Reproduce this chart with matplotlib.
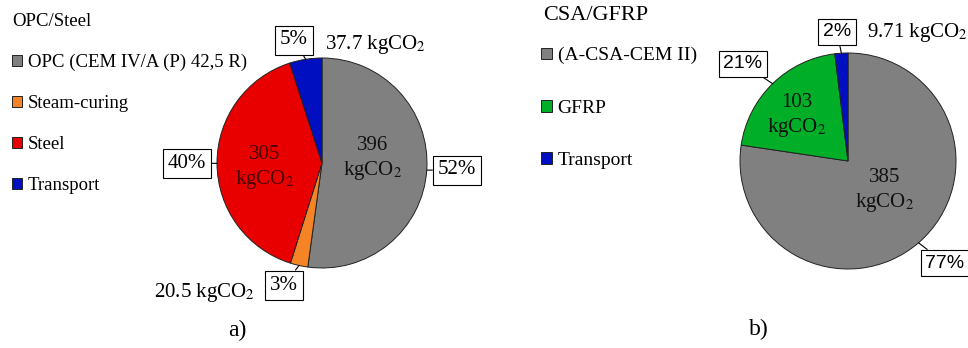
import matplotlib.pyplot as plt
import numpy as np

plt.rcParams['font.family'] = ['Liberation Serif', 'DejaVu Serif']
plt.rcParams['mathtext.fontset'] = 'stix'

# a) OPC/Steel
opc_labels = ["OPC (CEM IV/A (P) 42,5 R)", "Steam-curing", "Steel", "Transport"]
opc_values = [396, 20.5, 305, 37.7]
opc_colors = ["#808080", "#F58426", "#E80000", "#0010C0"]

# b) CSA/GFRP
csa_labels = ["(A-CSA-CEM II)", "GFRP", "Transport"]
csa_values = [385, 103, 9.71]
csa_colors = ["#808080", "#00AE28", "#0010C0"]

W, H = 968, 348
fig = plt.figure(figsize=(W / 100, H / 100), dpi=100)
ax = fig.add_axes([0, 0, 1, 1])

def up(y):
    # pixel rows are counted from the top
    return H - y

c1, r1 = (322, up(163)), 105
c2, r2 = (848, up(161)), 108

w1, _ = ax.pie(opc_values, colors=opc_colors, startangle=90, counterclock=False,
               center=c1, radius=r1, frame=True,
               wedgeprops=dict(edgecolor="#222222", linewidth=0.7))
w2, _ = ax.pie(csa_values, colors=csa_colors, startangle=90, counterclock=False,
               center=c2, radius=r2, frame=True,
               wedgeprops=dict(edgecolor="#222222", linewidth=0.7))

ax.set_xlim(0, W)
ax.set_ylim(0, H)
ax.set_aspect('auto')
ax.axis('off')

kg = "kgCO$_2$"

def edge_point(w):
    # point on the rim at the wedge's middle angle
    a = np.deg2rad((w.theta1 + w.theta2) / 2)
    return (w.center[0] + w.r * np.cos(a), w.center[1] + w.r * np.sin(a))

def pct_box(w, val, total, xy, family, fs):
    ax.annotate(f"{val / total * 100:.0f}%", xy=edge_point(w), xytext=xy,
                ha='center', va='center', fontsize=fs, family=family,
                bbox=dict(boxstyle='square,pad=0.24', fc='white', ec='black', lw=0.8),
                arrowprops=dict(arrowstyle='-', color='black', lw=0.8,
                                shrinkA=0, shrinkB=0))

# percentage callouts, left pie
t1 = sum(opc_values)
for w, v, pos in zip(w1, opc_values, [(457, 170), (284, 285), (187, 163), (294, 40)]):
    pct_box(w, v, t1, (pos[0], up(pos[1])), ['Liberation Serif'], 15)

# percentage callouts, right pie
t2 = sum(csa_values)
for w, v, pos in zip(w2, csa_values, [(945, 263), (743, 64), (837, 32)]):
    pct_box(w, v, t2, (pos[0], up(pos[1])), ['Liberation Sans'], 14)

# values inside the wedges
inner = dict(ha='center', va='center', fontsize=15, linespacing=1.3)
ax.text(373, up(159), f"{opc_values[0]:g}\n{kg}", color='#111111', **inner)
ax.text(265, up(168), f"{opc_values[2]:g}\n{kg}", color='#4a0000', **inner)
ax.text(797, up(116), f"{csa_values[1]:g}\n{kg}", color='#111111', **inner)
ax.text(885, up(191), f"{csa_values[0]:g}\n{kg}", color='#111111', **inner)

# small slices labelled outside
ax.text(325, up(45), f"{opc_values[3]:g} {kg}", ha='left', va='center', fontsize=15)
ax.text(255, up(292), f"{opc_values[1]:g} {kg}", ha='right', va='center', fontsize=15)
ax.text(867, up(32), f"{csa_values[2]:g} {kg}", ha='left', va='center', fontsize=15)

# legend titles
ax.text(12, up(22), "OPC/Steel", ha='left', va='center', fontsize=13.5)
ax.text(543, up(16), "CSA/GFRP", ha='left', va='center', fontsize=16)

# legends
leg1 = ax.legend(w1, opc_labels, loc='upper left',
                 bbox_to_anchor=(12 / W, 1 - 54 / H), bbox_transform=fig.transFigure,
                 frameon=False, fontsize=13.5,
                 handlelength=0.55, handleheight=0.55, handletextpad=0.3,
                 labelspacing=1.28, borderpad=0, borderaxespad=0)
ax.add_artist(leg1)
ax.legend(w2, csa_labels, loc='upper left',
          bbox_to_anchor=(541 / W, 1 - 47 / H), bbox_transform=fig.transFigure,
          frameon=False, fontsize=14,
          handlelength=0.55, handleheight=0.55, handletextpad=0.3,
          labelspacing=1.82, borderpad=0, borderaxespad=0)

ax.text(237, up(330), "a)", ha='center', va='center', fontsize=17)
ax.text(759, up(329), "b)", ha='center', va='center', fontsize=17)

fig.savefig("out.png", dpi=100)
